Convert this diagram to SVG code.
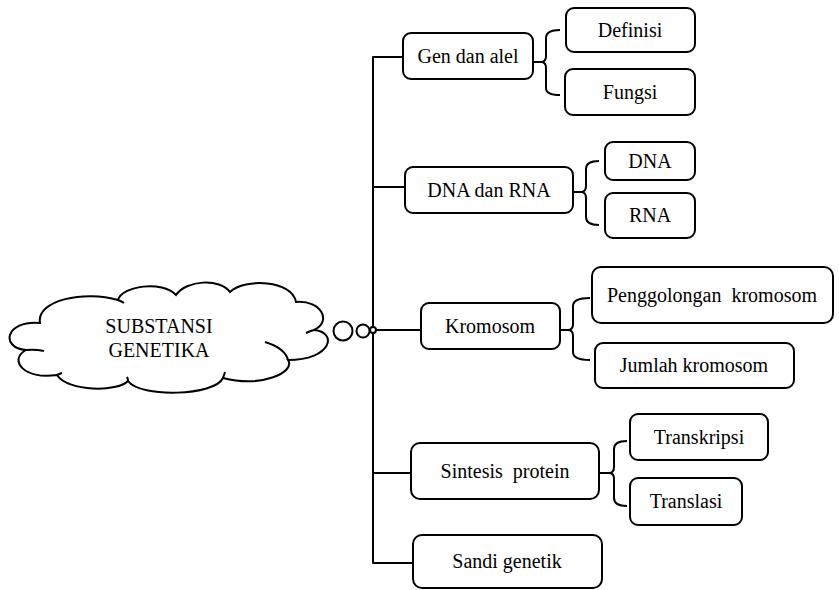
<svg xmlns="http://www.w3.org/2000/svg" width="839" height="590" viewBox="0 0 839 590">
<style>
.b{fill:#fff;stroke:#000;stroke-width:2}
.t{font-family:"Liberation Serif","Times New Roman",serif;font-size:20px;fill:#000;text-anchor:middle}
.c{fill:none;stroke:#000;stroke-width:2;stroke-linejoin:round}
</style>
<rect width="839" height="590" fill="#fff"/>
<g id="cloud">
<path class="b" d="M40,323 C36,300 85,290 118,300 C122,286 162,280 176,295 C186,280 220,278 230,292 C245,278 292,280 296,302 C322,300 332,322 314,330 C338,332 332,360 288,360 C296,372 262,388 223,378 C215,396 140,398 128,381 C118,392 68,392 57,375 C24,380 8,360 26,350 C0,348 5,320 40,323 Z"/>
<path class="c" d="M118,300 Q121,301 124,303 M314,330 Q310,331 306,333 M265,342 C278,346 286,352 288,360 M26,350 Q35,349 44,351 M57,375 Q59,374 62,373 M223,378 Q224,375 225,372 M128,381 Q128,379 127,377"/>
<text class="t" x="159" y="333">SUBSTANSI</text>
<text class="t" x="159" y="357">GENETIKA</text>
<circle class="b" cx="343" cy="331" r="9.5"/>
<circle class="b" cx="363" cy="331" r="6.5"/>
</g>
<g id="connectors">
<path class="c" d="M403,57 L373,57 L373,563 L413,563 M373,187 L405,187 M373,330 L421,330 M373,473 L411,473"/>
<path class="c" d="M533,62 L541,62 M560,30 Q546,30 546,38 L546,56 Q546,62 541,62 Q546,62 546,68 L546,88 Q546,95 560,95"/>
<path class="c" d="M573,192 L581,192 M599,161 Q586,161 586,169 L586,186 Q586,192 581,192 Q586,192 586,198 L586,217 Q586,225 599,225"/>
<path class="c" d="M560,330 L568,330 M590,298 Q573,298 573,306 L573,324 Q573,330 568,330 Q573,330 573,336 L573,352 Q573,360 590,360"/>
<path class="c" d="M599,473 L609,473 M627,441 Q614,441 614,449 L614,467 Q614,473 609,473 Q614,473 614,479 L614,498 Q614,506 627,506"/>
<circle cx="373" cy="330" r="3" fill="#fff" stroke="#000" stroke-width="2"/>
</g>
<g id="gen"><rect class="b" x="403" y="33" width="130" height="46" rx="8"/><text class="t" x="468" y="63">Gen dan alel</text></g>
<g id="definisi"><rect class="b" x="566" y="8" width="129" height="44" rx="8"/><text class="t" x="630" y="37">Definisi</text></g>
<g id="fungsi"><rect class="b" x="565" y="69" width="130" height="46" rx="8"/><text class="t" x="630" y="99">Fungsi</text></g>
<g id="dnarna"><rect class="b" x="405" y="167" width="168" height="46" rx="8"/><text class="t" x="489" y="197">DNA dan RNA</text></g>
<g id="dna"><rect class="b" x="605" y="142" width="90" height="38" rx="8"/><text class="t" x="650" y="168">DNA</text></g>
<g id="rna"><rect class="b" x="605" y="193" width="90" height="45" rx="8"/><text class="t" x="650" y="222">RNA</text></g>
<g id="kromosom"><rect class="b" x="421" y="303" width="139" height="46" rx="8"/><text class="t" x="490" y="333">Kromosom</text></g>
<g id="penggolongan"><rect class="b" x="592" y="267" width="241" height="56" rx="9"/><text class="t" x="712" y="302" word-spacing="5">Penggolongan kromosom</text></g>
<g id="jumlah"><rect class="b" x="595" y="343" width="199" height="45" rx="8"/><text class="t" x="694" y="372">Jumlah kromosom</text></g>
<g id="sintesis"><rect class="b" x="411" y="443" width="188" height="56" rx="9"/><text class="t" x="505" y="478" word-spacing="5">Sintesis protein</text></g>
<g id="transkripsi"><rect class="b" x="630" y="414" width="138" height="46" rx="8"/><text class="t" x="699" y="444">Transkripsi</text></g>
<g id="translasi"><rect class="b" x="630" y="478" width="112" height="47" rx="8"/><text class="t" x="686" y="508">Translasi</text></g>
<g id="sandi"><rect class="b" x="413" y="535" width="189" height="53" rx="9"/><text class="t" x="507" y="568">Sandi genetik</text></g>
</svg>
